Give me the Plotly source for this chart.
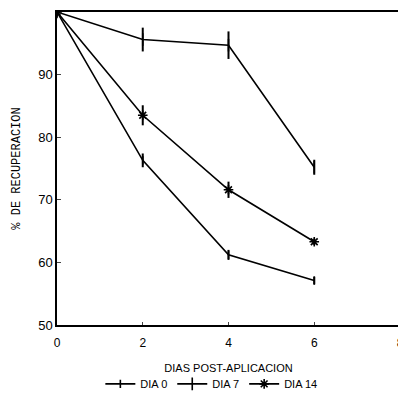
import plotly.graph_objects as go

dias = [0, 2, 4, 6]
dia0 = [100, 76.3, 61.2, 57.1]
dia0_err = [0, 1.1, 0.8, 0.6]
dia7 = [100, 95.6, 94.7, 75.2]
dia7_err = [0, 1.9, 2.2, 1.2]
dia14 = [100, 83.5, 71.6, 63.3]
dia14_err = [0, 1.6, 1.3, 0.5]

x_ticks = [0, 2, 4, 6, 8]
y_ticks = [50, 60, 70, 80, 90, 100]

fig = go.Figure()

def add(name, y, err, symbol, size):
    fig.add_trace(go.Scatter(
        x=dias, y=y, name=name, mode="lines+markers",
        line=dict(color="black", width=1.6),
        marker=dict(symbol=symbol, size=size, color="black",
                    line=dict(color="black", width=1.6)),
        error_y=dict(type="data", array=err, visible=True,
                     color="black", thickness=2, width=0),
    ))

add("DIA 0", dia0, dia0_err, "line-ns-open", 6)
add("DIA 7", dia7, dia7_err, "line-ns-open", 9)
add("DIA 14", dia14, dia14_err, "asterisk-open", 8)

# The page body has an 8px default margin, so the figure is sized to fit the window.
fig.update_layout(
    width=398, height=388,
    margin=dict(l=49, r=6, t=4, b=71, autoexpand=False),
    paper_bgcolor="white", plot_bgcolor="white",
    font=dict(family="Liberation Sans, Arial", color="black", size=12),
    showlegend=True,
    legend=dict(orientation="h", x=0.45, xanchor="center", y=-0.188, yanchor="middle",
                font=dict(size=11), itemwidth=30, tracegroupgap=0),
    xaxis=dict(range=[0, 8], tickvals=x_ticks, ticks="inside", ticklen=3,
               showline=True, linecolor="black", linewidth=1.5, mirror=True,
               showgrid=False, zeroline=False, ticklabelstandoff=6, automargin=False,
               title=dict(text="DIAS POST-APLICACION", font=dict(size=11)),
               tickfont=dict(size=12)),
    yaxis=dict(range=[50, 100], tickvals=y_ticks, ticks="inside", ticklen=4,
               showline=True, linecolor="black", linewidth=1.5, mirror=True,
               showgrid=False, zeroline=False, automargin=False,
               title=dict(text="% DE RECUPERACION",
                          font=dict(family="Liberation Mono, Courier New", size=12)),
               tickfont=dict(size=13)),
)

fig.write_html("out.html")
